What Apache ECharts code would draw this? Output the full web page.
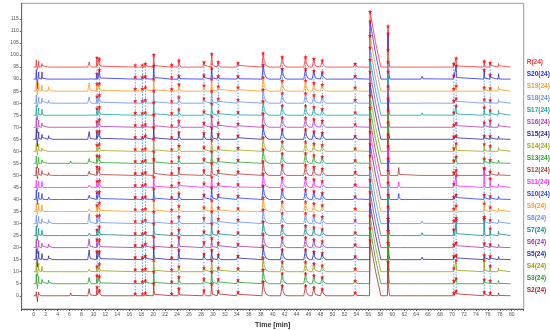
<!DOCTYPE html>
<html><head><meta charset="utf-8">
<script src="https://cdn.jsdelivr.net/npm/echarts@6/dist/echarts.min.js"></script>
<style>html,body{margin:0;padding:0;background:#fff}#c{width:550px;height:330px}</style>
</head><body><div id="c"></div><script>
// feature (peak) retention times in min, shared by all traces
const peakTimes  = [0.45,0.65,0.85,1.4,2.5,3.3,4.3,6.2,9.3,10.6,11.0,17.0,18.2,18.7,20.1,23.1,24.3,28.5,29.8,30.9,34.2,38.4,41.6,45.5,46.9,48.3,53.8,56.3,59.3,61.1,65.0,70.3,70.7,75.4,76.4,77.8];
const riseWidths = [0.08,0.08,0.08,0.1,0.1,0.1,0.15,0.15,0.25,0.12,0.12,0.1,0.1,0.1,0.1,0.1,0.15,0.2,0.15,0.2,0.25,0.2,0.3,0.3,0.3,0.3,0.3,0.1,0.1,0.15,0.2,0.1,0.1,0.1,0.1,0.1];
const tailWidths = [0.08,0.08,0.08,0.2,0.2,0.2,0.25,0.25,0.4,0.15,0.35,0.15,0.15,0.15,0.25,0.15,0.35,0.35,0.3,0.35,0.4,1.0,0.8,0.7,0.6,0.6,0.5,1.8,0.3,0.3,0.3,0.15,0.2,0.2,0.2,0.2];
// tail shape: level (fraction of peak height) at 20% and 50% of the tail width
const tailLevel1 = [0.4,0.4,0.4,0.4,0.4,0.4,0.4,0.4,0.4,0.4,0.4,0.4,0.4,0.4,0.4,0.4,0.4,0.4,0.4,0.4,0.4,0.4,0.4,0.4,0.4,0.4,0.4,0.78,0.4,0.4,0.4,0.4,0.4,0.4,0.4,0.4];
const tailLevel2 = [0.12,0.12,0.12,0.12,0.12,0.12,0.12,0.12,0.12,0.12,0.12,0.12,0.12,0.12,0.12,0.12,0.12,0.12,0.12,0.12,0.12,0.12,0.12,0.12,0.12,0.12,0.12,0.45,0.12,0.12,0.12,0.12,0.12,0.12,0.12,0.12];
const markedPeak = [0,0,0,0,0,0,0,0,0,1,1,1,1,1,1,1,1,1,1,1,1,1,1,1,1,1,1,1,1,0,0,1,1,1,1,0];
const traceEnd = 79.8;

const traceNames = ['R','S20','S19','S18','S17','S16','S15','S14','S13','S12','S11','S10','S9','S8','S7','S6','S5','S4','S3','S2'];
const baselines  = [95,90,85,80,75,70,65,60,55,50,45,40,35,30,25,20,15,10,5,0];
const colors = ['#ff3030','#2b2bff','#ff9b1f','#6b8ff0','#17a6a0','#b23cb8','#2a2aa6','#a6a616','#27a827','#b53a3a','#ff28ff','#2a3cff','#ff9b1f','#6b8ff0','#0f8c8c','#a33aa8','#2a2aa6','#9c9c10','#27a027','#b02828'];

// peak heights above each trace's baseline (mV), one value per peakTimes entry
const hR   = [3,-1,2.5, 1.5,0.8,0.5,0.4,0, 2.2, 3.9,3.4, 0.8,0.8,1.4, 5.1, 1.0, 2.8, 2.0, 5.5, 2.1, 1.7, 5.8, 4.2, 4.2, 3.5, 2.8, 1.4, 23, 17, 0.3, 0.5, 1.4,3.7, 2.4,1.8, 1.5];
const hS20 = [4,-4,3, 3,0.6,0.4,0.3,0, 0.6, 2.2,3.8, 0.9,0.9,1.2, 5.6, 0.8, 1.3, 1.6, 4.5, 1.3, 1.2, 5.9, 4.3, 4.2, 3.5, 2.9, 1.3, 24, 19, 0.3, 1.2, 1.5,5.6, 3.8,1.8, 2.2];
const hS19 = [4,-1.5,3.5, 2.5,1.8,0.8,0.6,0, 3.5, 3.0,3.2, 1.0,1.0,1.6, 5.0, 0.9, 2.8, 2.4, 5.0, 2.0, 1.6, 5.7, 4.3, 4.4, 3.4, 2.7, 1.5, 23, 17, 0.3, 0.6, 1.0,2.2, 1.5,1.2, 1.9];
const hS18 = [3.5,-1.5,2.5, 2,1.2,0.7,0.6,0.2, 2.7, 2.8,3.4, 0.9,0.9,1.3, 5.1, 0.8, 2.5, 2.0, 5.0, 1.9, 1.5, 5.6, 4.2, 4.1, 3.3, 2.8, 1.4, 23, 17, 0.3, 0.4, 1.0,2.0, 1.6,1.2, 1.5];
const hS17 = [4,-2,3, 2.5,0.8,0.4,0.3,0, 0.8, 2.8,3.4, 1.0,0.9,1.2, 5.3, 0.9, 2.4, 1.6, 4.8, 1.6, 1.3, 5.8, 4.0, 4.0, 3.4, 2.6, 1.2, 23, 18, 0.3, 1.0, 1.2,3.9, 3.3,2.0, 2.0];
const hS16 = [4,-2.5,3, 1.8,0.6,0.4,0.3,0, 0.5, 2.4,3.2, 0.9,0.8,1.3, 5.2, 0.8, 2.6, 1.8, 4.6, 2.0, 1.5, 5.7, 4.1, 4.0, 3.3, 2.7, 1.3, 23, 17, 0.3, 0.6, 1.0,1.7, 2.0,2.8, 1.5];
const hS15 = [4.5,-3,3, 2,1.5,0.8,0.6,0, 3.2, 3.3,3.4, 1.0,0.9,1.6, 5.0, 0.9, 2.9, 2.6, 4.9, 2.2, 1.6, 5.6, 4.2, 4.2, 3.3, 2.7, 1.4, 23, 17, 0.3, 0.5, 1.2,1.5, 1.5,1.4, 1.2];
const hS14 = [3.5,-1.5,3, 1.5,0.5,0.3,0.2,0, 0.6, 2.6,3.0, 0.9,0.8,1.2, 5.1, 0.8, 2.3, 1.7, 4.8, 1.6, 1.4, 5.7, 4.0, 3.9, 3.2, 2.6, 1.2, 23, 17, 0.3, 0.6, 1.3,3.3, 3.0,2.2, 1.6];
const hS13 = [3,-2,2.5, 1.5,0.6,0.5,0.4,1.0, 2.0, 3.2,3.0, 0.9,0.9,1.3, 5.0, 0.8, 2.6, 1.8, 4.9, 1.8, 1.4, 5.8, 4.1, 4.2, 3.4, 2.7, 1.3, 23, 17, 0.3, 0.5, 1.2,2.8, 2.0,1.4, 1.3];
const hS12 = [3.5,-1.5,3, 2,1.2,0.6,0.5,0, 1.8, 3.6,3.0, 0.9,0.9,1.3, 6.8, 0.9, 3.0, 2.1, 5.2, 2.0, 1.6, 5.8, 4.3, 4.3, 3.5, 2.8, 1.4, 23, 17, 3.3, 0.5, 1.2,2.2, 2.9,1.6, 1.3];
const hS11 = [3,-1.5,2.5, 2.5,0.6,0.4,0.3,0, 1.0, 2.6,2.8, 0.9,0.9,1.3, 4.4, 0.8, 2.0, 1.7, 4.4, 1.6, 1.3, 5.6, 4.0, 4.0, 3.3, 2.6, 1.2, 23, 17, 2.4, 0.5, 1.5,5.0, 8.0,3.7, 1.5];
const hS10 = [4,-2,3, 2.5,1.0,0.5,0.4,0, 1.8, 3.0,3.2, 1.0,0.9,1.3, 4.6, 0.9, 2.5, 2.0, 5.0, 1.9, 1.5, 5.7, 4.2, 4.1, 3.4, 2.7, 1.3, 23, 17, 2.5, 0.4, 1.2,2.0, 2.0,1.4, 1.3];
const hS9  = [3.5,-1.5,3.5, 2.8,0.8,0.4,0.3,0, 1.0, 2.6,3.6, 0.9,0.8,1.2, 4.8, 0.8, 2.3, 1.7, 4.6, 1.6, 1.3, 5.6, 4.0, 4.0, 3.3, 2.6, 1.2, 23, 17, 0.3, 0.6, 1.2,2.4, 3.4,1.8, 1.4];
const hS8  = [3.5,-1.5,3, 2,1.6,0.8,0.8,0, 4.2, 3.2,3.4, 1.0,1.0,1.5, 4.9, 0.9, 2.8, 2.3, 5.0, 2.0, 1.6, 5.7, 4.3, 4.3, 3.4, 2.8, 1.4, 23, 17, 0.3, 1.0, 1.2,2.4, 2.0,1.5, 1.6];
const hS7  = [4,-2,3, 2.2,0.6,0.4,0.3,0, 1.0, 2.4,3.8, 1.0,0.9,1.3, 5.0, 0.9, 2.4, 1.7, 5.0, 1.7, 1.3, 5.8, 4.1, 4.1, 3.4, 2.7, 1.3, 23, 17, 0.3, 1.2, 2.5,6.5, 7.8,3.0, 1.8];
const hS6  = [3.5,-2.5,3, 1.8,1.5,0.8,0.6,0, 3.6, 3.4,3.2, 1.0,0.9,1.6, 4.6, 0.9, 4.3, 2.2, 4.0, 2.0, 1.5, 5.6, 4.2, 4.2, 3.3, 2.7, 1.3, 23, 17, 0.3, 0.5, 1.3,2.0, 1.8,1.4, 1.3];
const hS5  = [4.5,-3,3.5, 2.5,1.6,0.8,0.7,0, 4.0, 3.4,3.4, 1.0,1.0,1.6, 5.1, 0.9, 4.0, 2.4, 4.0, 2.1, 1.6, 5.6, 4.2, 4.2, 3.3, 2.8, 1.4, 23, 17, 0.3, 1.0, 1.5,1.8, 2.0,1.5, 1.3];
const hS4  = [4,-2,3.5, 2.2,0.6,0.4,0.3,0, 1.0, 2.2,3.2, 0.9,0.8,1.2, 4.8, 0.8, 2.2, 1.6, 4.8, 1.6, 1.3, 5.7, 4.0, 4.0, 3.3, 2.6, 1.2, 23, 17, 0.3, 0.6, 1.5,4.8, 4.8,2.4, 1.5];
const hS3  = [4,-2,3, 1.8,1.5,0.6,0.6,0, 2.6, 3.4,3.0, 1.0,0.9,1.4, 5.0, 0.9, 2.8, 2.0, 5.0, 1.9, 1.5, 5.8, 4.3, 4.3, 3.4, 2.7, 1.3, 23, 17, 0.3, 0.5, 1.2,2.2, 1.8,1.3, 1.3];
const hS2  = [1.7,-2.5,1.5, 0.8,0.5,0.4,0.5,1.2, 3.0, 3.6,2.2, 0.9,0.8,1.2, 5.1, 0.9, 3.0, 2.2, 5.0, 1.9, 1.5, 5.8, 4.2, 4.2, 3.4, 2.7, 1.3, 23, 14, 0.3, 0.5, 1.2,2.0, 1.6,1.2, 1.2];
const heights = [hR,hS20,hS19,hS18,hS17,hS16,hS15,hS14,hS13,hS12,hS11,hS10,hS9,hS8,hS7,hS6,hS5,hS4,hS3,hS2];

const xTickLabels = [0,2,4,6,8,10,12,14,16,18,20,22,24,26,28,30,32,34,36,38,40,42,44,46,48,50,52,54,56,58,60,62,64,66,68,70,72,74,76,78,80];
const yTickLabels = [0,5,10,15,20,25,30,35,40,45,50,55,60,65,70,75,80,85,90,95,100,105,110,115];

const series = [];
const markerData = [];
traceNames.forEach((name, k) => {
  const b = baselines[k], h = heights[k];
  const pts = [[0, b]];
  peakTimes.forEach((t, i) => {
    const r = tailWidths[i];
    pts.push([t - riseWidths[i], b], [t, b + h[i]], [t + 0.2 * r, b + tailLevel1[i] * h[i]], [t + 0.5 * r, b + tailLevel2[i] * h[i]], [t + r, b]);
    if (markedPeak[i]) markerData.push([t, b + h[i]]);
  });
  pts.push([traceEnd, b]);
  series.push({type:'line', name, data: pts, showSymbol:false, symbol:'none', animation:false,
    lineStyle:{color: colors[k], width:0.8}, itemStyle:{color: colors[k]}, z: 3});
});
peakTimes.forEach((t, i) => {
  if (!markedPeak[i]) return;
  const ys = heights.map((h, k) => baselines[k] + h[i]);
  series.push({type:'line', data: [[t, Math.min(...ys)], [t, Math.max(...ys)]], symbol:'none', animation:false,
    lineStyle:{color:'#4aa8f0', width:1, type:[1.5,1.5]}, z: 2});
});
series.push({type:'scatter', data: markerData, animation:false,
  symbol:'path://M0,-5L1.3,-1.7L5,-1.6L2.1,0.7L3.1,4.6L0,2.3L-3.1,4.6L-2.1,0.7L-5,-1.6L-1.3,-1.7Z',
  symbolSize:4.5, itemStyle:{color:'#ff0000'}, z: 10});

const chart = echarts.init(document.getElementById('c'), null, {renderer:'canvas'});
chart.setOption({
  animation:false,
  grid:{left:21.7, right:26.3, top:3.3, bottom:21, show:true, borderColor:'#9a9a9a', borderWidth:1, containLabel:false, outerBoundsMode:'none'},
  xAxis:{type:'value', min:-2, max:82, interval:2,
    name:'Time [min]', nameLocation:'middle', nameGap:11,
    nameTextStyle:{fontFamily:'Liberation Sans', fontWeight:'bold', fontSize:7, color:'#333'},
    axisLine:{show:true, onZero:false, lineStyle:{color:'#555', width:1}},
    axisTick:{show:true, length:2, lineStyle:{color:'#555'}},
    minorTick:{show:true, splitNumber:4, length:1.5, lineStyle:{color:'#777'}},
    axisLabel:{customValues:xTickLabels, fontSize:5, color:'#555', margin:3, fontFamily:'Liberation Sans'},
    splitLine:{show:false}},
  yAxis:{type:'value', min:-5.5, max:121.5,
    name:'Signal [mV]', nameLocation:'middle', nameGap:12,
    nameTextStyle:{fontFamily:'Liberation Sans', fontWeight:'bold', fontSize:7, color:'#333'},
    axisLine:{show:true, onZero:false, lineStyle:{color:'#666', width:1}},
    axisTick:{show:true, customValues:yTickLabels, length:2, lineStyle:{color:'#666'}},
    axisLabel:{customValues:yTickLabels, fontSize:5, color:'#555', margin:3, fontFamily:'Liberation Sans'},
    splitLine:{show:false}},
  series
});
const labelX = chart.convertToPixel({gridIndex:0}, [82, 0])[0] + 3;
chart.setOption({graphic: traceNames.map((name, k) => {
  const y = chart.convertToPixel({gridIndex:0}, [0, baselines[k] + 2.2])[1];
  return {type:'text', x: labelX, y, style:{text: name + '(24)', fill: colors[k], font:'bold 6.5px "Liberation Sans"', textVerticalAlign:'middle'}};
})});
</script></body></html>
